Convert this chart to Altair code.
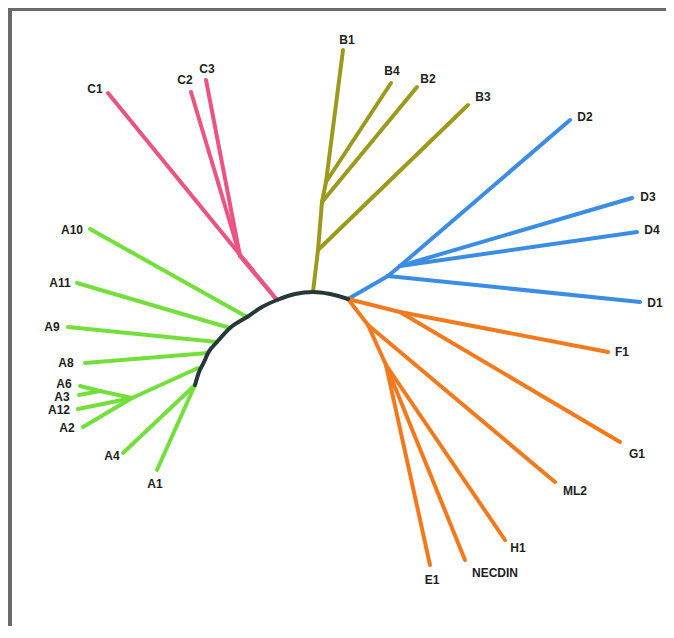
import altair as alt
import pandas as pd

# ---- tree nodes (layout coordinates, y grows downward) ----
node_names = ["A10", "A11", "A9", "A8", "A6", "A3", "A12", "A2", "A4", "A1",
              "C1", "C2", "C3", "B1", "B4", "B2", "B3",
              "D2", "D3", "D4", "D1", "F1", "G1", "ML2", "H1", "NECDIN", "E1",
              "nA10", "nA11", "nA9", "nA8", "nAg", "nA63", "nAg2", "nA41",
              "nC", "nC23", "nB", "nB3", "nB2", "nB4",
              "nDE", "nD", "nD2", "nFG", "nO1", "nO2"]
node_x = [90, 77, 68, 85, 80, 79, 78, 83, 123, 157,
          108, 191, 206, 343, 391, 417, 468,
          570, 632, 637, 640, 608, 620, 555, 505, 465, 430,
          247, 230, 217, 208, 198, 100, 132, 195,
          277, 240, 313, 318, 322, 326,
          348, 388, 400, 400, 368, 386]
node_y = [229, 283, 327, 363, 386, 395, 409, 427, 453, 470,
          93, 92, 80, 50, 83, 87, 105,
          120, 198, 232, 302, 352, 442, 482, 540, 560, 565,
          317, 328, 342, 353, 368, 391, 398, 385,
          300, 256, 292, 250, 202, 182,
          299, 276, 266, 312, 325, 365]

# ---- edges: child, parent, clade ----
edge_child = ["A10", "A11", "A9", "A8", "A6", "A3", "nA63", "A12", "A2", "nAg2", "A4", "A1",
              "C1", "C2", "C3", "nC23",
              "B3", "nB3", "B2", "nB2", "B4", "nB4", "B1",
              "nD", "D1", "nD2", "D2", "D3", "D4",
              "nFG", "F1", "G1", "nO1", "ML2", "nO2", "H1", "NECDIN", "E1"]
edge_parent = ["nA10", "nA11", "nA9", "nA8", "nA63", "nA63", "nAg2", "nAg2", "nAg2", "nAg", "nA41", "nA41",
               "nC", "nC23", "nC23", "nC",
               "nB3", "nB", "nB2", "nB3", "nB4", "nB2", "nB4",
               "nDE", "nD", "nD", "nD2", "nD2", "nD2",
               "nDE", "nFG", "nFG", "nDE", "nO1", "nO1", "nO2", "nO2", "nO2"]
edge_clade = ["A"] * 12 + ["C"] * 4 + ["B"] * 7 + ["D"] * 6 + ["E"] * 9

# ---- backbone arc through the internal nodes ----
spine_x = [195, 199, 204, 208, 217, 230, 247, 262, 277, 295, 313, 330, 348]
spine_y = [385, 372, 362, 353, 342, 328, 317, 307, 300, 294, 292, 294, 299]

# ---- leaf labels ----
label_text = ["A10", "A11", "A9", "A8", "A6", "A3", "A12", "A2", "A4", "A1",
              "C1", "C2", "C3", "B1", "B4", "B2", "B3",
              "D2", "D3", "D4", "D1", "F1", "G1", "ML2", "H1", "NECDIN", "E1"]
label_x = [72, 60, 52, 66, 64, 62, 59, 67, 112, 155,
           95, 185, 207, 347, 392, 428, 483,
           585, 648, 652, 655, 622, 637, 575, 518, 495, 432]
label_y = [230, 283, 327, 363, 384, 397, 410, 428, 456, 484,
           89, 80, 69, 40, 71, 79, 97,
           117, 197, 230, 303, 352, 454, 491, 548, 573, 580]

clade_names = ["A", "B", "C", "D", "E"]
clade_colors = ["#74df3c", "#9c9a1c", "#ea5480", "#3b8de4", "#f27a1e"]

pos = {n: (x, y) for n, x, y in zip(node_names, node_x, node_y)}
edges = pd.DataFrame({
    "x": [pos[p][0] for p in edge_parent],
    "y": [pos[p][1] for p in edge_parent],
    "x2": [pos[c][0] for c in edge_child],
    "y2": [pos[c][1] for c in edge_child],
    "clade": edge_clade,
})
spine = pd.DataFrame({"x": spine_x, "y": spine_y, "i": list(range(len(spine_x)))})
labels = pd.DataFrame({"x": label_x, "y": label_y, "t": label_text})

W, H = 658, 618
xs = alt.Scale(domain=[8, 8 + W])
ys = alt.Scale(domain=[8, 8 + H], reverse=True)
X = lambda f: alt.X(f, type="quantitative", scale=xs, axis=None)
Y = lambda f: alt.Y(f, type="quantitative", scale=ys, axis=None)

branches = alt.Chart(edges).mark_rule(strokeWidth=4, strokeCap="round").encode(
    x=X("x"), y=Y("y"), x2="x2", y2="y2",
    color=alt.Color("clade:N", scale=alt.Scale(domain=clade_names, range=clade_colors), legend=None),
)
backbone = alt.Chart(spine).mark_line(strokeWidth=4, color="#263838", strokeCap="round",
                                      interpolate="monotone").encode(
    x=X("x"), y=Y("y"), order="i:Q")
text = alt.Chart(labels).mark_text(font="Liberation Sans", fontWeight="bold", fontSize=12,
                                   color="#1e1e1e", align="center", baseline="middle").encode(
    x=X("x"), y=Y("y"), text="t:N")

frame_top = alt.Chart(spine).mark_rule(color="#6a6a6a", strokeWidth=3).encode(
    x=alt.value(0), x2=alt.value(W), y=alt.value(1))
frame_left = alt.Chart(spine).mark_rule(color="#6a6a6a", strokeWidth=3).encode(
    x=alt.value(2), y=alt.value(0), y2=alt.value(H))

chart = alt.layer(frame_top, frame_left, branches, backbone, text).properties(
    width=W, height=H, padding=0, autosize=alt.AutoSizeParams(type="none"),
    background="white",
).configure_view(stroke=None)

chart.save("out.html", embed_options={"renderer": "svg", "actions": False})
